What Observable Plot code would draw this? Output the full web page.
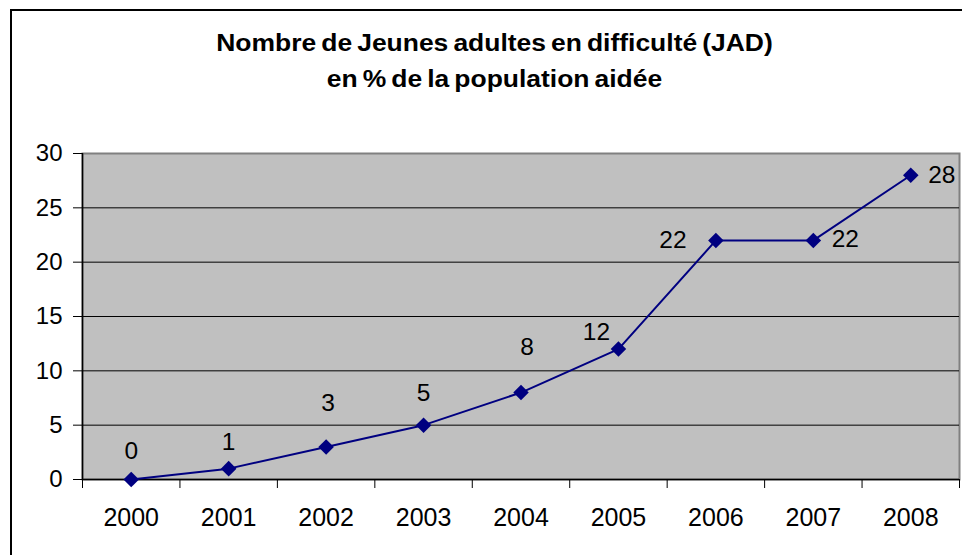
<!DOCTYPE html>
<html>
<head>
<meta charset="utf-8">
<script src="https://cdn.jsdelivr.net/npm/d3@7"></script>
<script src="https://cdn.jsdelivr.net/npm/@observablehq/plot@0.6"></script>
<style>
  html, body { margin: 0; padding: 0; background: #fff; }
  #wrap { position: relative; width: 962px; height: 555px; overflow: hidden; background: #fff; }
  #border { position: absolute; left: 10px; top: 9px; width: 1000px; height: 600px; border: 2px solid #000; box-sizing: border-box; }
  #title { position: absolute; left: 0; top: 25px; width: 989px; text-align: center;
           font-family: "Liberation Sans", Arial, sans-serif; font-weight: bold; font-size: 23px;
           line-height: 36px; color: #000; transform: scaleX(1.15); transform-origin: 494.5px 0; word-spacing: -2px; }
  #chart { position: absolute; left: 0; top: 0; }
</style>
</head>
<body>
<div id="wrap">
  <div id="border"></div>
  <div id="title">Nombre de Jeunes adultes en difficulté (JAD)<br>en % de la population aidée</div>
  <div id="chart"></div>
</div>
<script>
// Data
const years = [2000, 2001, 2002, 2003, 2004, 2005, 2006, 2007, 2008];
const values = [0, 1, 3, 5, 8, 12, 22, 22, 28];
const yTicks = [0, 5, 10, 15, 20, 25, 30];

// label nudges (pixels) relative to each point, as placed in the reference
const labelDx = [0, 0, 2, 0, 6, -22, -43, 32, 31];
const labelDy = [-28, -26, -44, -32, -45, -17, 0, -1, 0];

const data = years.map((year, i) => ({year, value: values[i]}));
const bandEdges = [...years.map(y => y - 0.5), years[years.length - 1] + 0.5];

const labelMarks = data.map((d, i) =>
  Plot.text([d], {x: "year", y: "value", text: d => String(d.value),
    dx: labelDx[i], dy: labelDy[i], fontSize: 24.5, fill: "#000"}));

const chart = Plot.plot({
  width: 962,
  height: 555,
  marginLeft: 82,
  marginRight: 3,
  marginTop: 153,
  marginBottom: 76,
  style: {fontFamily: "'Liberation Sans', Arial, sans-serif", fontSize: "24px", color: "#000", background: "transparent", overflow: "visible"},
  x: {type: "linear", domain: [years[0] - 0.5, years[years.length - 1] + 0.5]},
  y: {domain: [0, 30]},
  marks: [
    Plot.frame({fill: "#C0C0C0", stroke: "#808080", strokeWidth: 2}),
    Plot.ruleY(yTicks.filter(v => v > 0 && v < 30), {stroke: "#000", strokeWidth: 1}),
    Plot.ruleY([0], {stroke: "#000", strokeWidth: 1.5}),
    Plot.ruleX([bandEdges[0]], {stroke: "#000", strokeWidth: 1.5}),
    Plot.axisY(yTicks, {tickSize: 9, tickPadding: 11, fontSize: 24, stroke: "#000", label: null}),
    Plot.axisX(bandEdges, {tickSize: 9, text: null, stroke: "#000", label: null}),
    Plot.axisX(years, {tickSize: 0, tickPadding: 29, tickFormat: d => String(d), fontSize: 25, label: null}),
    Plot.line(data, {x: "year", y: "value", stroke: "#000080", strokeWidth: 2}),
    Plot.dot(data, {x: "year", y: "value", symbol: "diamond2", r: 7, fill: "#000080", stroke: "none"}),
    ...labelMarks
  ]
});
document.getElementById("chart").appendChild(chart);
</script>
</body>
</html>
